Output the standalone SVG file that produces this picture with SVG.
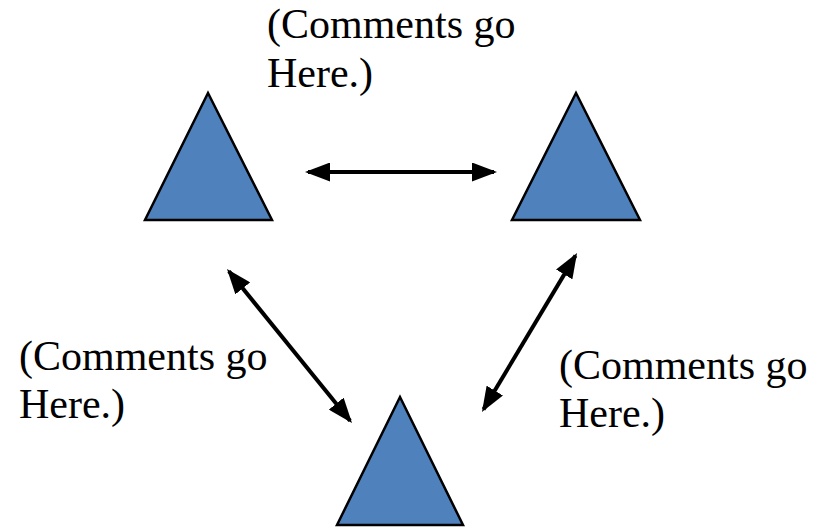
<svg xmlns="http://www.w3.org/2000/svg" width="821" height="529" viewBox="0 0 821 529">
  <style>
    .tri { fill: #4f81bd; stroke: #000000; stroke-width: 2.5; stroke-linejoin: miter; }
    .link { stroke: #000000; stroke-width: 4; fill: none; marker-start: url(#head); marker-end: url(#head); }
    .note { font-family: "Liberation Serif", "Times New Roman", serif; font-size: 42px; fill: #000000; }
  </style>
  <defs>
    <!-- arrowhead tip sits 3px beyond the line end so the stroke stays hidden -->
    <marker id="head" viewBox="0 0 25 19" refX="22" refY="9.5" markerUnits="userSpaceOnUse" markerWidth="25" markerHeight="19" orient="auto-start-reverse">
      <path d="M0,0 L25,9.5 L0,19 Z" fill="#000000"/>
    </marker>
  </defs>
  <rect width="821" height="529" fill="#ffffff"/>

  <!-- triangle nodes -->
  <g id="node-left">
    <polygon class="tri" points="208,93 145,220 272,220"/>
  </g>
  <g id="node-right">
    <polygon class="tri" points="576,93 512,220 640,220"/>
  </g>
  <g id="node-bottom">
    <polygon class="tri" points="400,397 337,525 463,525"/>
  </g>

  <!-- two-way connectors -->
  <g id="connectors">
    <line class="link" x1="308" y1="172" x2="494" y2="172"/>
    <line class="link" x1="228.9" y1="271.3" x2="350.1" y2="420.7"/>
    <line class="link" x1="575.5" y1="255.6" x2="483.5" y2="409.4"/>
  </g>

  <!-- comment labels -->
  <g id="label-top">
    <text class="note" x="267" y="38">(Comments go</text>
    <text class="note" x="267" y="87">Here.)</text>
  </g>
  <g id="label-left">
    <text class="note" x="19" y="370">(Comments go</text>
    <text class="note" x="19" y="418">Here.)</text>
  </g>
  <g id="label-right">
    <text class="note" x="559" y="379">(Comments go</text>
    <text class="note" x="559" y="427">Here.)</text>
  </g>
</svg>
